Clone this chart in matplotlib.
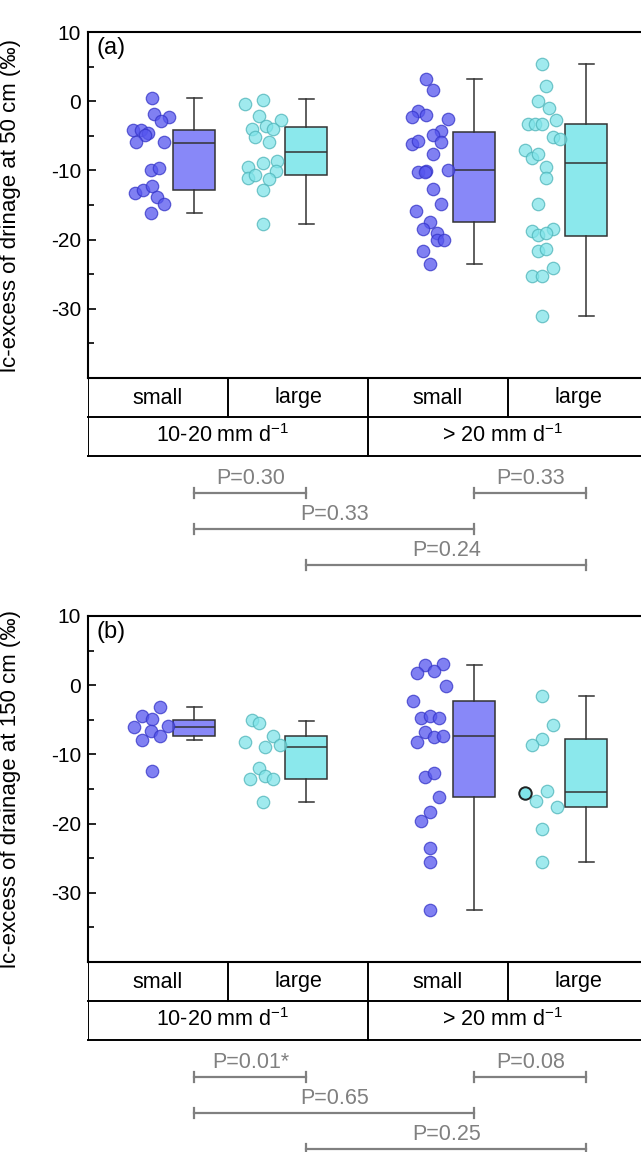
import matplotlib
matplotlib.use("Agg")
import matplotlib.pyplot as plt
from matplotlib.ticker import MultipleLocator, FixedLocator

plt.rcParams['font.family'] = ['Liberation Sans', 'DejaVu Sans']
plt.rcParams['mathtext.fontset'] = 'custom'
plt.rcParams['mathtext.rm'] = 'Liberation Sans'
plt.rcParams['mathtext.it'] = 'Liberation Sans'
plt.rcParams['axes.unicode_minus'] = False

# ---- data ----
group_pos = [1, 2, 3.5, 4.5]
size_labels = ['small', 'large', 'small', 'large']
rain_labels = ['10-20 mm d$^{-1}$', '> 20 mm d$^{-1}$']
y_ticks = [-30, -20, -10, 0, 10]

# panel (a): lc-excess at 50 cm, scatter values and horizontal jitter
a1_y = [0.5, -1.9, -2.3, -2.9, -4.2, -4.1, -4.6, -4.9, -5.9, -5.9, -9.9, -9.7, -13.2, -12.8, -12.2, -13.8, -14.9, -16.1]
a1_dx = [-0.38, -0.36, -0.23, -0.30, -0.55, -0.48, -0.41, -0.44, -0.52, -0.27, -0.39, -0.32, -0.53, -0.46, -0.38, -0.33, -0.27, -0.39]
a2_y = [-0.4, 0.2, -2.1, -2.7, -4.0, -3.6, -4.0, -5.2, -5.9, -9.5, -8.9, -8.7, -10.1, -11.1, -10.6, -11.3, -12.9, -17.8]
a2_dx = [-0.55, -0.39, -0.42, -0.23, -0.49, -0.36, -0.30, -0.46, -0.33, -0.52, -0.39, -0.26, -0.27, -0.52, -0.46, -0.33, -0.39, -0.39]
a3_y = [3.2, 1.6, -1.4, -2.3, -2.0, -2.5, -4.3, -4.9, -5.9, -6.2, -5.7, -7.7, -10.3, -10.1, -10.3, -9.9, -12.7, -14.9, -15.9, -17.4, -18.4, -19.0, -20.1, -20.0, -21.6, -23.5]
a3_dx = [-0.43, -0.37, -0.50, -0.56, -0.43, -0.24, -0.30, -0.37, -0.30, -0.56, -0.50, -0.37, -0.50, -0.43, -0.44, -0.24, -0.37, -0.30, -0.52, -0.40, -0.46, -0.33, -0.33, -0.27, -0.46, -0.40]
a4_y = [5.4, 2.2, 0.0, -1.0, -2.7, -3.3, -3.3, -3.3, -5.2, -5.5, -7.1, -8.2, -7.7, -9.5, -11.1, -14.9, -18.7, -18.4, -19.4, -19.1, -21.6, -21.3, -25.2, -25.2, -24.1, -31.0]
a4_dx = [-0.40, -0.36, -0.43, -0.33, -0.27, -0.52, -0.46, -0.40, -0.30, -0.24, -0.55, -0.49, -0.43, -0.36, -0.36, -0.43, -0.49, -0.30, -0.43, -0.36, -0.43, -0.36, -0.49, -0.40, -0.30, -0.40]
# box stats: whislo, q1, med, q3, whishi
a_box = [[-16.1, -12.9, -6.0, -4.1, 0.4],
         [-17.8, -10.6, -7.3, -3.7, 0.3],
         [-23.5, -17.4, -9.9, -4.4, 3.2],
         [-31.0, -19.5, -8.9, -3.3, 5.4]]
a_pvals = ['P=0.30', 'P=0.33', 'P=0.33', 'P=0.24']

# panel (b): lc-excess at 150 cm
b1_y = [-3.1, -4.4, -4.9, -6.1, -5.9, -6.6, -7.3, -7.9, -12.4]
b1_dx = [-0.31, -0.47, -0.38, -0.54, -0.24, -0.39, -0.31, -0.47, -0.38]
b2_y = [-5.1, -5.5, -7.3, -8.2, -8.7, -8.9, -11.9, -13.6, -13.1, -13.6, -16.9]
b2_dx = [-0.49, -0.42, -0.30, -0.55, -0.24, -0.37, -0.42, -0.50, -0.37, -0.30, -0.39]
b3_y = [2.9, 3.0, 1.7, 2.0, -0.1, -2.3, -4.8, -4.4, -4.7, -6.7, -7.5, -7.3, -8.2, -13.3, -12.7, -16.2, -18.3, -19.6, -23.5, -25.6, -32.5]
b3_dx = [-0.44, -0.28, -0.51, -0.36, -0.25, -0.55, -0.48, -0.40, -0.32, -0.44, -0.36, -0.28, -0.51, -0.44, -0.36, -0.32, -0.40, -0.48, -0.40, -0.40, -0.40]
b4_y = [-1.5, -5.7, -7.8, -8.6, -15.6, -15.3, -16.7, -17.6, -20.8, -25.6]
b4_dx = [-0.40, -0.30, -0.40, -0.49, -0.55, -0.35, -0.45, -0.26, -0.40, -0.40]
b4_marked = 4   # the point drawn with a dark outline
b_box = [[-7.9, -7.3, -6.1, -5.0, -3.1],
         [-16.9, -13.6, -8.9, -7.3, -5.2],
         [-32.5, -16.2, -7.3, -2.3, 2.9],
         [-25.6, -17.6, -15.5, -7.8, -1.5]]
b_pvals = ['P=0.01*', 'P=0.08', 'P=0.65', 'P=0.25']

# comparison pairs (group index) for the P-value bars
pairs = [(0, 1), (2, 3), (0, 2), (1, 3)]

# ---- styles ----
pt_face = ['#5656ee', '#80e4e9', '#5656ee', '#80e4e9']
pt_edge = ['#3434c8', '#4db4b9', '#3434c8', '#4db4b9']
box_face = ['#8888f8', '#8be8ec', '#8888f8', '#8be8ec']
dark = '#333333'
grey = '#808080'

W, H = 641, 1152
fig = plt.figure(figsize=(W / 100, H / 100), dpi=100)


def px_axes(left, top, right, bottom):
    return fig.add_axes([left / W, 1 - bottom / H, (right - left) / W, (bottom - top) / H])


def draw_panel(top, ys, dxs, box, pvals, label, ylabel, marked=None):
    ax = px_axes(88, top, 648, top + 346)
    for i in range(4):
        xs = [group_pos[i] + d for d in dxs[i]]
        ax.scatter(xs, ys[i], s=80, c=pt_face[i], edgecolors=pt_edge[i],
                   linewidths=0.9, alpha=0.75, zorder=3)
    if marked is not None:
        ax.scatter([group_pos[3] + dxs[3][marked]], [ys[3][marked]], s=80,
                   c=pt_face[3], edgecolors='#222222', linewidths=1.4, zorder=4)
    stats = [dict(whislo=b[0], q1=b[1], med=b[2], q3=b[3], whishi=b[4], fliers=[])
             for b in box]
    bp = ax.bxp(stats, positions=group_pos, widths=0.375, capwidths=0.14,
                patch_artist=True, showfliers=False,
                boxprops=dict(edgecolor=dark, linewidth=1.1),
                medianprops=dict(color=dark, linewidth=1.1),
                whiskerprops=dict(color=dark, linewidth=1.1),
                capprops=dict(color=dark, linewidth=1.1))
    for patch, fc in zip(bp['boxes'], box_face):
        patch.set_facecolor(fc)
    ax.set_xlim(0.05, 5.05)
    ax.set_ylim(-40, 10)
    ax.yaxis.set_major_locator(FixedLocator(y_ticks))
    ax.yaxis.set_minor_locator(MultipleLocator(5))
    ax.tick_params(axis='y', which='major', direction='in', length=6, width=1.2,
                   labelsize=15, pad=5)
    ax.tick_params(axis='y', which='minor', direction='in', length=4, width=1.2)
    ax.set_xticks([])
    for s in ax.spines.values():
        s.set_linewidth(1.5)
    ax.spines['right'].set_visible(False)
    ax.set_ylabel(ylabel, fontsize=16)
    ax.yaxis.set_label_coords(-0.12, 0.5)
    ax.text(0.016, 0.953, label, transform=ax.transAxes, fontsize=17,
            ha='left', va='center')

    # table and P-values underneath, y in pixels from table top
    tb = px_axes(88, top + 346, 648, top + 546)
    tb.set_xlim(0.05, 5.05)
    tb.set_ylim(200, 0)
    tb.axis('off')
    lw = 1.4
    for y in [39, 78]:
        tb.plot([0.05, 5.05], [y, y], color='black', lw=lw, clip_on=False)
    tb.plot([0.05, 0.05], [0, 78], color='black', lw=lw)
    tb.plot([2.55, 2.55], [0, 78], color='black', lw=lw)
    for xv in [1.3, 3.8]:
        tb.plot([xv, xv], [0, 39], color='black', lw=lw)
    for i, lab in enumerate(size_labels):
        tb.text(0.05 + 1.25 * i + 0.625, 20, lab, fontsize=15.5, ha='center', va='center')
    for j, lab in enumerate(rain_labels):
        tb.text(0.05 + 2.5 * j + 1.2, 58, lab, fontsize=15.5, ha='center', va='center')

    bar_y = [115, 115, 151, 187]
    for (g1, g2), yb, pv in zip(pairs, bar_y, pvals):
        x1, x2 = group_pos[g1], group_pos[g2]
        tb.plot([x1, x2], [yb, yb], color=grey, lw=1.6, clip_on=False)
        tb.plot([x1, x1], [yb - 5, yb + 5], color=grey, lw=1.6, clip_on=False)
        tb.plot([x2, x2], [yb - 5, yb + 5], color=grey, lw=1.6, clip_on=False)
        tb.text((x1 + x2) / 2, yb - 15, pv, fontsize=15.5, color=grey,
                ha='center', va='center', clip_on=False)
    return ax


draw_panel(32, [a1_y, a2_y, a3_y, a4_y], [a1_dx, a2_dx, a3_dx, a4_dx], a_box, a_pvals,
           '(a)', 'lc-excess of drinage at 50 cm (‰)')
draw_panel(616, [b1_y, b2_y, b3_y, b4_y], [b1_dx, b2_dx, b3_dx, b4_dx], b_box, b_pvals,
           '(b)', 'lc-excess of drainage at 150 cm (‰)', marked=b4_marked)

fig.savefig('out.png', dpi=100)
